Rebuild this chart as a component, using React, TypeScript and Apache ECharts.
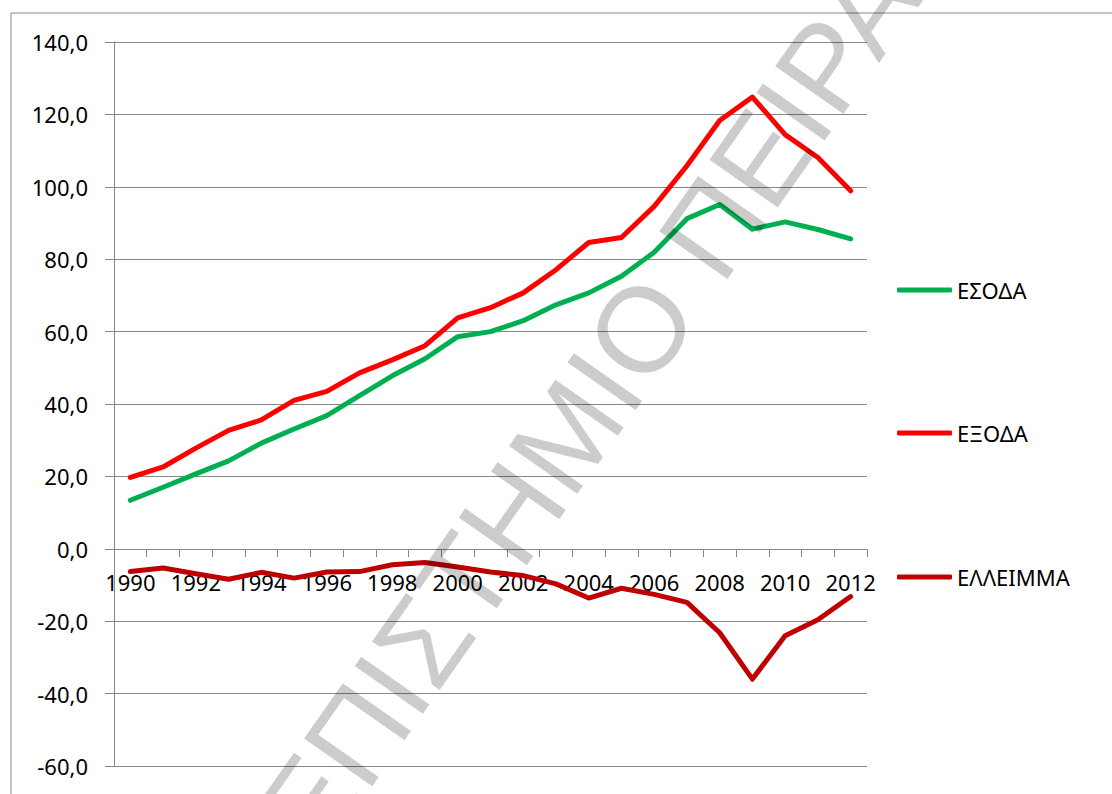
import React, { useEffect, useRef } from "react";
import * as echarts from "echarts";

const years = ["1990","1991","1992","1993","1994","1995","1996","1997","1998","1999","2000","2001","2002","2003","2004","2005","2006","2007","2008","2009","2010","2011","2012"];
const esoda = [13.4,17.0,20.7,24.3,29.2,33.1,36.8,42.3,47.8,52.5,58.6,60.0,63.0,67.4,70.7,75.3,81.9,91.2,95.1,88.3,90.3,88.2,85.6];
const exoda = [19.7,22.6,27.8,32.7,35.6,41.0,43.5,48.6,52.2,56.1,63.8,66.6,70.7,77.1,84.6,86.0,94.6,105.8,118.3,124.8,114.4,108.1,98.9];
const elleimma = [-6.3,-5.3,-6.9,-8.4,-6.5,-8.1,-6.4,-6.3,-4.4,-3.8,-5.0,-6.4,-7.4,-9.7,-13.6,-10.9,-12.6,-14.8,-23.2,-36.0,-24.0,-19.6,-13.2];
const seriesNames = ["ΕΣΟΔΑ", "ΕΞΟΔΑ", "ΕΛΛΕΙΜΜΑ"];
const seriesColors = ["#00B050", "#FF0000", "#C00000"];
const watermark = "ΠΑΝΕΠΙΣΤΗΜΙΟ ΠΕΙΡΑΙΩΣ";
const yMin = -60;
const yMax = 140;

const FONT = "'Noto Sans', 'Open Sans', sans-serif";

export default function App() {
  const ref = useRef<HTMLDivElement>(null);
  useEffect(() => {
    if (!ref.current) return;
    const chart = echarts.init(ref.current, null, { renderer: "svg" });
    const data = [esoda, exoda, elleimma];
    const legendCenters = [291, 434, 578];
    const gridH = 724;
    const zeroOffset = -Math.round((gridH * (0 - yMin)) / (yMax - yMin));
    chart.setOption({
      animation: false,
      backgroundColor: "#ffffff",
      grid: { left: 114, top: 42, width: 753, height: gridH, containLabel: false, outerBoundsMode: "none" },
      legend: seriesNames.map((n, i) => ({
        data: [n],
        orient: "vertical",
        left: 897,
        top: legendCenters[i] - 12,
        itemWidth: 55,
        itemHeight: 5,
        icon: "roundRect",
        itemGap: 0,
        padding: 0,
        textStyle: { fontFamily: FONT, fontSize: 22, color: "#000" },
      })),
      xAxis: {
        type: "category",
        data: years,
        boundaryGap: true,
        position: "bottom",
        offset: zeroOffset,
        axisLine: { show: true, onZero: false, lineStyle: { color: "#888888", width: 1 } },
        axisTick: { show: true, interval: 0, length: 8, inside: false, lineStyle: { color: "#888888" } },
        axisLabel: { interval: 1, margin: 22, fontFamily: FONT, fontSize: 22, color: "#000" },
        splitLine: { show: false },
      },
      yAxis: {
        type: "value",
        min: yMin,
        max: yMax,
        interval: 20,
        axisLine: { show: true, onZero: false, lineStyle: { color: "#888888", width: 1 } },
        axisTick: { show: true, length: 9, lineStyle: { color: "#888888" } },
        axisLabel: {
          margin: 26,
          fontFamily: FONT,
          fontSize: 22,
          color: "#000",
          formatter: (v: number) => v.toFixed(1).replace(".", ","),
        },
        splitLine: { show: true, lineStyle: { color: "#888888", width: 1 } },
      },
      series: seriesNames.map((n, i) => ({
        name: n,
        type: "line",
        data: data[i],
        symbol: "none",
        color: seriesColors[i],
        lineStyle: { width: 5, color: seriesColors[i], cap: "round", join: "round" },
        itemStyle: { color: seriesColors[i] },
      })),
      graphic: [
        {
          type: "rect",
          shape: { x: 11, y: 13, width: 1300, height: 1000 },
          style: { fill: "none", stroke: "#888888", lineWidth: 1 },
          silent: true,
          z: -1,
        },
        {
          type: "text",
          x: 572,
          y: 428,
          rotation: (55 * Math.PI) / 180,
          silent: true,
          z: 100,
          style: {
            text: watermark,
            font: "121px 'Liberation Sans', sans-serif",
            fill: "rgba(0,0,0,0.2)",
            textAlign: "center",
            textVerticalAlign: "middle",
          },
        },
      ],
    });
    return () => chart.dispose();
  }, []);
  return (
    <div
      ref={ref}
      style={{ position: "fixed", left: 0, top: 0, width: 1112, height: 794 }}
    />
  );
}
